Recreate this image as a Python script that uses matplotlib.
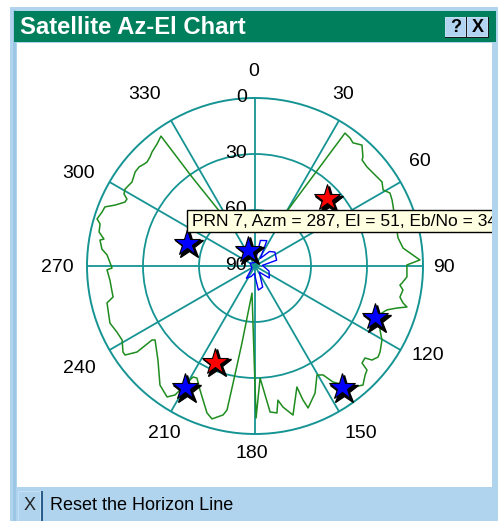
import numpy as np
import matplotlib
matplotlib.use('Agg')
import matplotlib.pyplot as plt
from matplotlib.patches import Rectangle
from matplotlib.transforms import offset_copy

plt.rcParams['font.family'] = ['Liberation Sans', 'DejaVu Sans']

# ---------------- data ----------------
title_text = 'Satellite Az-El Chart'
tooltip_text = 'PRN 7, Azm = 287, El = 51, Eb/No = 34'
checkbox_text = 'Reset the Horizon Line'

az_ticks = [0, 30, 60, 90, 120, 150, 180, 210, 240, 270, 300, 330]
az_tick_labels = ['0', '30', '60', '90', '120', '150', '180', '210', '240', '270', '300', '330']
el_ticks = [0, 30, 60, 90]
el_tick_labels = ['0', '30', '60', '90']

# horizon (elevation mask) line, azimuth / elevation in degrees
horizon_az = [28.2, 31.1, 34.1, 36.6, 38.5, 41.5, 44.7, 45.3, 48.5, 52.8, 56.5, 59.3, 61.6, 64.3,
              78.9, 83.1, 87.9, 89.6, 94.1, 96.6, 97.5, 99.2, 102.1, 104.0, 105.1, 106.5, 108.4,
              110.3, 117.1, 120.2, 124.5, 126.5, 128.8, 129.9, 132.2, 132.9, 134.7, 137.8, 141.0,
              146.1, 148.0, 150.4, 154.7, 159.5, 160.3, 160.9, 165.7, 168.8, 170.3, 171.5, 174.1,
              177.4, 179.6, 186.3, 189.6, 190.6, 191.0, 192.1, 195.7, 198.1, 203.9, 207.4, 209.2,
              211.8, 213.9, 218.6, 225.9, 233.5, 234.3, 233.9, 235.6, 236.9, 240.9, 244.4, 248.5,
              253.3, 256.0, 257.7, 259.7, 264.5, 268.5, 269.2, 274.3, 276.3, 279.5, 280.1, 282.3,
              285.2, 286.6, 289.4, 291.5, 293.5, 296.2, 297.6, 298.8, 300.6, 304.3, 308.1, 310.5,
              312.6, 313.9, 316.1, 317.9, 321.2, 324.1, 324.7, 326.1, 329.0, 340.0, 15.0, 28.2]
horizon_el = [65.1, 50.6, 4.0, 4.6, 5.7, 3.5, 7.8, 9.3, 9.9, 9.3, 8.4, 10.2, 7.8, 8.5,
              11.9, 10.1, 1.6, 8.6, 8.4, 10.7, 11.7, 9.7, 10.6, 8.3, 5.7, 10.7, 15.5,
              17.5, 14.8, 11.3, 8.7, 8.0, 9.6, 13.2, 12.6, 8.1, 7.0, 3.9, 6.6,
              15.1, 21.2, 22.8, 14.7, 8.8, 13.8, 21.4, 7.6, 13.0, 17.1, 10.4, 11.4,
              29.9, 8.6, 75.4, 48.2, 26.2, 11.4, 8.4, 4.9, 7.2, 17.3, 22.4, 21.9,
              8.7, 5.5, 8.4, 17.6, 23.4, 22.1, 11.8, 5.6, 5.6, 8.5, 8.0, 6.5,
              7.8, 8.3, 12.2, 12.2, 11.9, 10.7, 13.4, 10.5, 7.5, 5.8, 7.8, 4.5,
              4.0, 1.7, 3.1, 3.6, 8.2, 12.4, 12.6, 9.9, 9.1, 10.2, 8.4, 8.3,
              9.3, 9.7, 8.9, 7.7, 6.2, 4.1, 31.6, 48.7, 64.0, 66.0, 66.0, 65.1]

# small blue trace around the zenith
rose_az = [0, 12, 25, 35, 45, 55, 75, 85, 110, 130, 145, 160, 172, 185, 200, 215, 235, 300, 330, 360]
rose_el = [88, 76, 75, 85, 79, 77, 78, 86, 82, 80, 86, 78, 77, 86, 84, 82, 88, 87, 88, 88]

# satellites
sat_az = [46.6, 288.7, 336.0, 113.0, 144.3, 202.6, 210.0]
sat_el = [37.0, 51.5, 80.6, 20.0, 10.0, 34.3, 15.1]
sat_color = ['#ff0000', '#0000ff', '#0000ff', '#0000ff', '#0000ff', '#ff0000', '#0000ff']

# ---------------- styling ----------------
W, H = 498, 521
TEAL = '#169494'
GREEN = '#1e8c1e'
FRAME = '#b0d3ee'
TITLEBAR = '#007f5c'
CX, CY, R = 255, 266, 168
LABEL_R = 194.0  # px from centre for azimuth labels
# small pixel nudges for each azimuth label (dx right, dy up)
label_nudge = [(-1, 0), (-9, 3), (-3, 7), (-5, -2), (5, 8), (9, 1),
               (-3, 7), (6, 1), (-8, -5), (-4, -2), (-8, -4), (-13, 3)]

fig = plt.figure(figsize=(W / 100, H / 100), dpi=100)
fig.patch.set_facecolor('white')

# background "window" axes, pixel coordinates
bg = fig.add_axes([0, 0, 1, 1], zorder=0)
bg.set_xlim(0, W)
bg.set_ylim(H, 0)
bg.axis('off')
bg.add_patch(Rectangle((10, 7), W - 10, H - 7, facecolor=FRAME, edgecolor='none'))
bg.add_patch(Rectangle((13, 10), 3, H - 10, facecolor='#9cc6e6', edgecolor='none'))
bg.add_patch(Rectangle((14, 11), 482, 31, facecolor=TITLEBAR, edgecolor='none'))
bg.add_patch(Rectangle((17, 43), 475, 444, facecolor='white', edgecolor='none'))
bg.text(20, 27.5, title_text, color='white', fontsize=17.2, fontweight='bold',
        ha='left', va='center')
for x0 in [445, 467]:
    bg.add_patch(Rectangle((x0, 17), 22, 21, facecolor='#1a1a1a', edgecolor='none'))
    bg.add_patch(Rectangle((x0, 17), 21, 20, facecolor='#c0ddf4', edgecolor='none'))
    bg.add_patch(Rectangle((x0 + 1, 18), 19, 18, facecolor='#b2d4f0', edgecolor='none'))
bg.text(455.5, 27.5, '?', fontsize=13, fontweight='bold', ha='center', va='center', color='black')
bg.text(477.5, 27.5, 'X', fontsize=13, fontweight='bold', ha='center', va='center', color='black')
# checkbox
bg.add_patch(Rectangle((18, 491), 25, 32, facecolor='#2a5d8a', edgecolor='none'))
bg.add_patch(Rectangle((18, 491), 23, 32, facecolor='#c6e0f5', edgecolor='none'))
bg.add_patch(Rectangle((19, 492), 21, 32, facecolor=FRAME, edgecolor='none'))
bg.text(29.5, 506, 'X', fontsize=13, ha='center', va='center', color='#222222')
bg.text(50, 506, checkbox_text, fontsize=13, ha='left', va='center', color='black')

# polar chart
ax = fig.add_axes([(CX - R) / W, (H - CY - R) / H, 2 * R / W, 2 * R / H],
                  projection='polar', zorder=1)
ax.set_theta_zero_location('N')
ax.set_theta_direction(-1)
ax.set_ylim(0, 90)
ax.set_facecolor('white')
ax.set_thetagrids(az_ticks, [''] * len(az_ticks))
ax.set_rgrids([30, 60], ['', ''])
ax.grid(True, color=TEAL, linewidth=1.3)
ax.spines['polar'].set_color(TEAL)
ax.spines['polar'].set_linewidth(1.4)
ax.tick_params(length=0)

th = np.radians(horizon_az)
ax.plot(th, 90 - np.array(horizon_el), color=GREEN, linewidth=1.1, zorder=3)
ax.plot(np.radians(rose_az), 90 - np.array(rose_el), color='#0000ff', linewidth=1.0, zorder=3)

# azimuth labels
r_lab = 90.0 * LABEL_R / R
for a, lab, (ndx, ndy) in zip(az_ticks, az_tick_labels, label_nudge):
    tr = offset_copy(ax.transData, fig=fig, x=ndx, y=ndy, units='dots')
    ax.text(np.radians(a), r_lab, lab, transform=tr, ha='center', va='center', fontsize=14,
            color='black', clip_on=False, zorder=4)
# elevation labels
lab_tr = offset_copy(ax.transData, fig=fig, x=-8, y=0, units='dots')
for e, lab in zip(el_ticks, el_tick_labels):
    ax.text(0, 90 - e, lab, transform=lab_tr, ha='right', va='center', fontsize=14,
            color='black', clip_on=False, zorder=4)

# satellites with drop shadow
shadow_tr = offset_copy(ax.transData, fig=fig, x=2, y=-2.5, units='dots')
st = np.radians(sat_az)
sr = 90 - np.array(sat_el)
ax.plot(st, sr, linestyle='none', marker='*', markersize=21, color='black',
        transform=shadow_tr, zorder=5, clip_on=False)
for t, r, c in zip(st, sr, sat_color):
    ax.plot([t], [r], linestyle='none', marker='*', markersize=20, markerfacecolor=c,
            markeredgecolor='black', markeredgewidth=0.8, zorder=6, clip_on=False)

# foreground: tooltip and right frame strip
fg = fig.add_axes([0, 0, 1, 1], zorder=2)
fg.set_xlim(0, W)
fg.set_ylim(H, 0)
fg.axis('off')
fg.patch.set_alpha(0)
fg.add_patch(Rectangle((187, 210), 310, 22, facecolor='#ffffe1', edgecolor='black', linewidth=1.0))
fg.text(192, 221.5, tooltip_text, fontsize=12.5, ha='left', va='center', color='black')
fg.add_patch(Rectangle((492, 43), 6, H - 43, facecolor=FRAME, edgecolor='none', zorder=5))

fig.savefig('out.png', dpi=100, facecolor='white')
